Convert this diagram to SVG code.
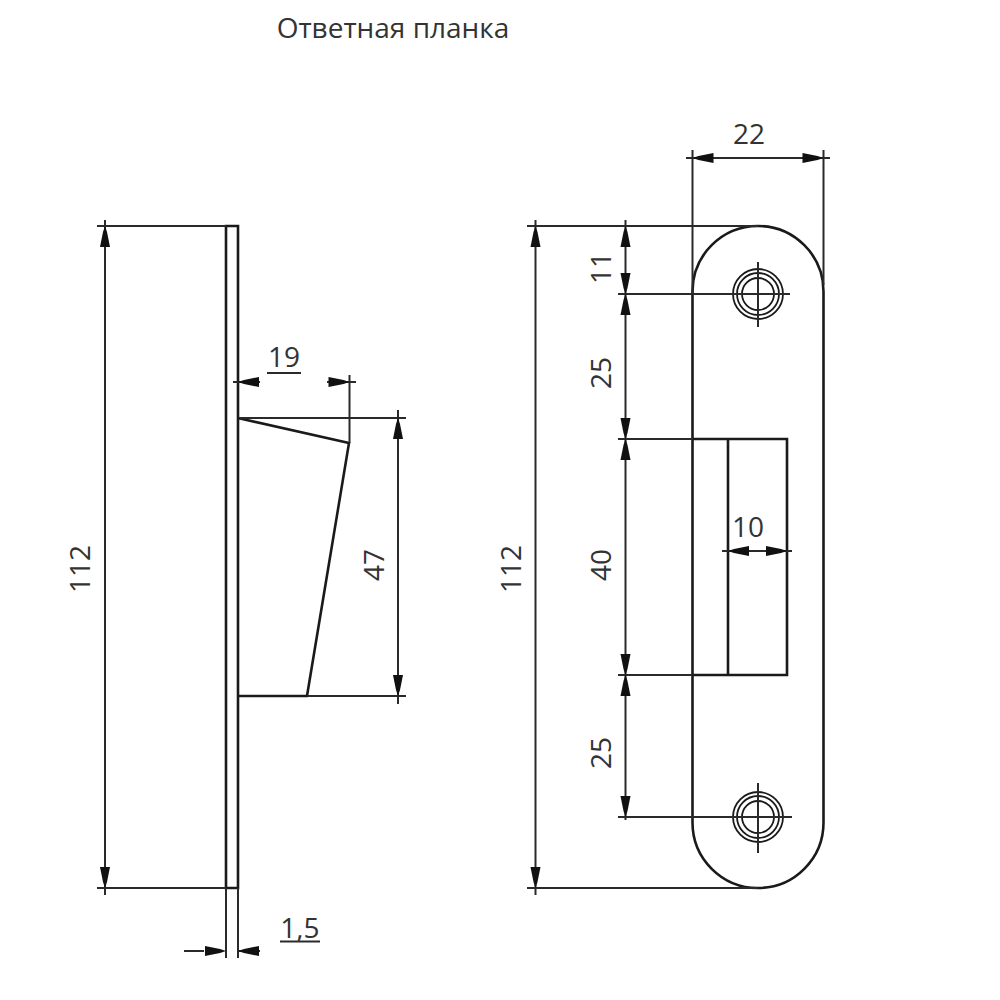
<svg xmlns="http://www.w3.org/2000/svg" xmlns:xlink="http://www.w3.org/1999/xlink" width="1000" height="1000" viewBox="0 0 1000 1000">
<style>
text{font-family:"Open Sans","Noto Sans",sans-serif;fill:#333;font-size:28px;text-anchor:middle}
.m{fill:none;stroke:#1a1a1a;stroke-width:2.6}
.d{fill:none;stroke:#2a2a2a;stroke-width:2}
.r{fill:none;stroke:#1a1a1a;stroke-width:1.8}
.a{fill:#111;stroke:none}
</style>
<defs>
<polygon id="ar" class="a" points="0,0 6,-2 21,-5 21,5 6,2"/>
</defs>
<rect width="1000" height="1000" fill="#fff"/>
<text x="393" y="38">Ответная планка</text>
<g id="side-view">
<path class="m" d="M226 226H238V888H226ZM238 418L349 443L307 696H238"/>
</g>
<g id="front-view">
<rect class="m" x="692.500" y="226" width="131" height="662" rx="65.500" ry="65.500"/>
<path class="m" d="M692.500 439H787V675H692.500M728 439V675"/>
<g id="hole-top" class="r"><circle cx="758" cy="294" r="25"/><circle cx="758" cy="294" r="21"/><circle cx="758" cy="294" r="16"/></g>
<g id="hole-bottom" class="r"><circle cx="758" cy="817" r="25"/><circle cx="758" cy="817" r="21"/><circle cx="758" cy="817" r="16"/></g>
</g>
<g id="connectors">
<path class="d" d="M97 226H226M97 888H226M105 220V895M233 382H260M327 382H356M349.500 375V443M240 418H406M307 696H406M398 410V704M226 888V958M238 888V958M184 951H204M238 951H260M692.500 150V294M823.500 150V285M686 158H830M527 226H758M527 888H758M535.500 220V895M625.500 220V820M618 294H730M618 439H692.500M618 675H692.500M618 817H732M730 294H790M758 262V327M732 817H792M758 783V853M722 551H792"/>
<use xlink:href="#ar" href="#ar" transform="translate(105,226) rotate(90)"/>
<use xlink:href="#ar" href="#ar" transform="translate(105,888) rotate(-90)"/>
<use xlink:href="#ar" href="#ar" transform="translate(238,382)"/>
<use xlink:href="#ar" href="#ar" transform="translate(349.500,382) rotate(180)"/>
<use xlink:href="#ar" href="#ar" transform="translate(398,418) rotate(90)"/>
<use xlink:href="#ar" href="#ar" transform="translate(398,696) rotate(-90)"/>
<use xlink:href="#ar" href="#ar" transform="translate(226,951) rotate(180)"/>
<use xlink:href="#ar" href="#ar" transform="translate(238,951)"/>
<use xlink:href="#ar" href="#ar" transform="translate(692.500,158)"/>
<use xlink:href="#ar" href="#ar" transform="translate(823.500,158) rotate(180)"/>
<use xlink:href="#ar" href="#ar" transform="translate(535.500,226) rotate(90)"/>
<use xlink:href="#ar" href="#ar" transform="translate(535.500,888) rotate(-90)"/>
<use xlink:href="#ar" href="#ar" transform="translate(625.500,226) rotate(90)"/>
<use xlink:href="#ar" href="#ar" transform="translate(625.500,294) rotate(-90)"/>
<use xlink:href="#ar" href="#ar" transform="translate(625.500,294) rotate(90)"/>
<use xlink:href="#ar" href="#ar" transform="translate(625.500,439) rotate(-90)"/>
<use xlink:href="#ar" href="#ar" transform="translate(625.500,439) rotate(90)"/>
<use xlink:href="#ar" href="#ar" transform="translate(625.500,675) rotate(-90)"/>
<use xlink:href="#ar" href="#ar" transform="translate(625.500,675) rotate(90)"/>
<use xlink:href="#ar" href="#ar" transform="translate(625.500,817) rotate(-90)"/>
<use xlink:href="#ar" href="#ar" transform="translate(728,551)"/>
<use xlink:href="#ar" href="#ar" transform="translate(787,551) rotate(180)"/>
<path class="d" d="M267 373H301M280 941.500H320"/>
</g>
<g id="labels">
<text x="284" y="367">19</text>
<text x="300" y="938">1,5</text>
<text x="749" y="144">22</text>
<text x="748" y="537">10</text>
<text transform="translate(90,569) rotate(-90)">112</text>
<text transform="translate(384,565) rotate(-90)">47</text>
<text transform="translate(521,569) rotate(-90)">112</text>
<text transform="translate(611,268) rotate(-90)">11</text>
<text transform="translate(611,373) rotate(-90)">25</text>
<text transform="translate(611,565) rotate(-90)">40</text>
<text transform="translate(611,753) rotate(-90)">25</text>
</g>
</svg>
